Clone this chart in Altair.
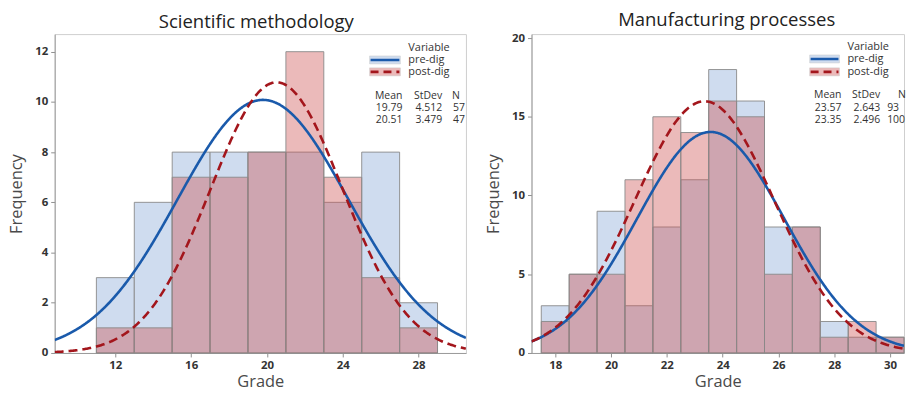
import altair as alt
import pandas as pd

FONT = "Open Sans"

series_names = ["pre-dig", "post-dig"]

# ---- Scientific methodology panel ----
sci_title = "Scientific methodology"
sci_edges = [11, 13, 15, 17, 19, 21, 23, 25, 27, 29]
sci_pre = [3, 6, 8, 8, 8, 8, 6, 8, 2]
sci_post = [1, 1, 7, 7, 8, 12, 7, 3, 1]
sci_mean = [19.79, 20.51]
sci_sd = [4.512, 3.479]
sci_n = [57, 47]
sci_binw = 2
sci_xticks = [12, 16, 20, 24, 28]
sci_yticks = [0, 2, 4, 6, 8, 10, 12]
sci_xdomain = [8.8, 30.5]
sci_ydomain = [0, 12.7]

# ---- Manufacturing processes panel ----
man_title = "Manufacturing processes"
man_edges = [17.5, 18.5, 19.5, 20.5, 21.5, 22.5, 23.5, 24.5, 25.5, 26.5, 27.5, 28.5, 29.5, 30.5]
man_pre = [3, 5, 9, 3, 8, 11, 18, 16, 8, 8, 2, 1, 1]
man_post = [2, 5, 5, 11, 15, 14, 16, 15, 5, 8, 1, 2, 1]
man_mean = [23.57, 23.35]
man_sd = [2.643, 2.496]
man_n = [93, 100]
man_binw = 1
man_xticks = [18, 20, 22, 24, 26, 28, 30]
man_yticks = [0, 5, 10, 15, 20]
man_xdomain = [17.15, 30.5]
man_ydomain = [0, 20.25]

BAR_FILL = ["#cfdcef", "#cd5252"]
BAR_OPACITY = [1.0, 0.4]
SWATCH_FILL = ["#cfdcef", "#ebbaba"]
LINE_COLOR = ["#1a5aab", "#a3161c"]
LINE_DASH = [[1, 0], [9, 5]]
TEXT_COLOR = "#333333"


def one_row():
    return alt.Data(values=[{"a": 0}])


def text_layer(txt, px, py, align="left", size=11):
    return alt.Chart(one_row()).mark_text(
        text=txt, align=align, baseline="middle", font=FONT, fontSize=size,
        color=TEXT_COLOR
    ).encode(x=alt.value(px), y=alt.value(py))


def panel(title, edges, pre, post, mean, sd, n, binw, xdom, ydom, xticks, yticks,
          width, height, leg, title_dx):
    xs = alt.Scale(domain=xdom, nice=False, zero=False)
    ys = alt.Scale(domain=ydom, nice=False, zero=True)
    xaxis = alt.Axis(values=xticks, title="Grade", grid=False, labelFlush=False,
                     titleFont=FONT, titleFontSize=16.5, titleFontWeight="normal",
                     titleColor="#4a4a4a", titlePadding=2,
                     labelFont=FONT, labelFontSize=11.5, labelFontWeight="bold",
                     labelColor=TEXT_COLOR, labelPadding=3,
                     tickColor="#8f8f8f", domainColor="#9a9a9a", tickSize=4)
    yaxis = alt.Axis(values=yticks, title="Frequency", grid=False,
                     titleFont=FONT, titleFontSize=16.5, titleFontWeight="normal",
                     titleColor="#4a4a4a", titlePadding=10,
                     labelFont=FONT, labelFontSize=11.5, labelFontWeight="bold",
                     labelColor=TEXT_COLOR, labelPadding=3,
                     tickColor="#8f8f8f", domainColor="#9a9a9a", tickSize=4)

    layers = []
    counts = [pre, post]
    for i in range(2):
        df = pd.DataFrame({
            "x0": edges[:-1],
            "x1": edges[1:],
            "count": counts[i],
            "series": series_names[i],
        })
        layers.append(
            alt.Chart(df).mark_rect(
                fill=BAR_FILL[i], fillOpacity=BAR_OPACITY[i],
                stroke="#8a8a8a", strokeWidth=1, strokeOpacity=0.9
            ).encode(
                x=alt.X("x0:Q", scale=xs, axis=xaxis),
                x2="x1:Q",
                y=alt.Y("count:Q", scale=ys, axis=yaxis),
                y2=alt.datum(0),
            )
        )
    for i in range(2):
        layers.append(
            alt.Chart(alt.sequence(xdom[0], xdom[1] + 0.001, 0.05, as_="g"))
            .transform_calculate(
                f=f"{n[i] * binw}*densityNormal(datum.g, {mean[i]}, {sd[i]})"
            )
            .mark_line(color=LINE_COLOR[i], strokeWidth=2.6,
                       strokeDash=LINE_DASH[i], clip=True)
            .encode(x=alt.X("g:Q", scale=xs, axis=xaxis),
                    y=alt.Y("f:Q", scale=ys, axis=yaxis))
        )

    # legend block (top right of plot)
    sx0, sx1 = leg["sx"]
    for i in range(2):
        cy = leg["sy"][i]
        layers.append(
            alt.Chart(one_row()).mark_rect(fill=SWATCH_FILL[i], stroke="#c9c9c9",
                                           strokeWidth=0.5).encode(
                x=alt.value(sx0), x2=alt.value(sx1),
                y=alt.value(cy - 4), y2=alt.value(cy + 4))
        )
        layers.append(
            alt.Chart(one_row()).mark_rule(color=LINE_COLOR[i], strokeWidth=2.6,
                                           strokeDash=[8, 5] if i == 1 else [1, 0]).encode(
                x=alt.value(sx0 + 1), x2=alt.value(sx1 - 1),
                y=alt.value(cy))
        )
    layers.append(text_layer("Variable", leg["tx"], leg["vy"]))
    for i in range(2):
        layers.append(text_layer(series_names[i], leg["tx"], leg["sy"][i] + 0.5))
    layers.append(text_layer("Mean", leg["mx"], leg["hy"], "right", 10.5))
    layers.append(text_layer("StDev", leg["dx"], leg["hy"], "right", 10.5))
    layers.append(text_layer("N", leg["nhx"], leg["hy"], "left", 10.5))
    for i in range(2):
        ry = leg["ry"][i]
        layers.append(text_layer(f"{mean[i]:.2f}", leg["mx"], ry, "right", 10.5))
        layers.append(text_layer(f"{sd[i]:.3f}", leg["dx"], ry, "right", 10.5))
        layers.append(text_layer(f"{n[i]}", leg["nx"], ry, "left", 10.5))

    return alt.layer(*layers).properties(
        width=width, height=height,
        title=alt.TitleParams(title, font=FONT, fontSize=18.6, fontWeight="normal",
                              color="#222222", anchor="middle", offset=3,
                              dx=title_dx),
    )


left = panel(sci_title, sci_edges, sci_pre, sci_post, sci_mean, sci_sd, sci_n,
             sci_binw, sci_xdomain, sci_ydomain, sci_xticks, sci_yticks, 414, 321,
             dict(sx=(317, 348), sy=(26, 38), tx=356, vy=14, hy=62, ry=(74, 86),
                  mx=350, dx=390, nhx=400, nx=401), -4)
right = panel(man_title, man_edges, man_pre, man_post, man_mean, man_sd, man_n,
              man_binw, man_xdomain, man_ydomain, man_xticks, man_yticks, 375, 321,
              dict(sx=(280, 310), sy=(25, 38), tx=318, vy=13, hy=61, ry=(74, 86),
                   mx=312, dx=351, nhx=369, nx=358), 9)

chart = alt.hconcat(left, right, spacing=18).properties(
    padding={"left": 0, "top": 0, "right": 0, "bottom": 0}
).configure_view(stroke="#cfcfcf", strokeWidth=1)

chart.save("out.html", embed_options={"renderer": "svg", "actions": False})
